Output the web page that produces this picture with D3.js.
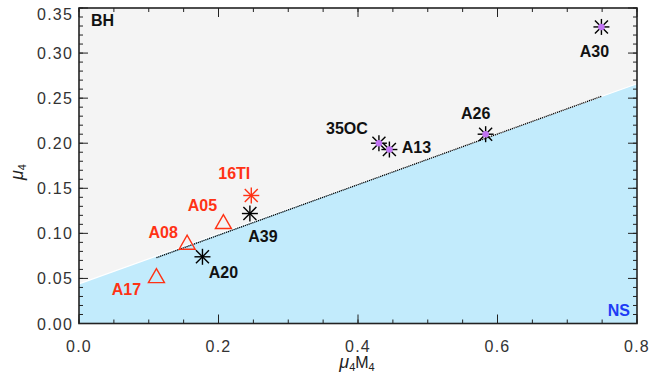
<!DOCTYPE html>
<html>
<head>
<meta charset="utf-8">
<script src="https://cdn.jsdelivr.net/npm/d3@7"></script>
<style>
body { margin: 0; background: #fff; }
svg text { font-family: "Liberation Sans", Arial, sans-serif; }
</style>
</head>
<body>
<div id="chart"></div>
<script>
// stars (asterisk markers)
var starNames = ["A30", "A26", "35OC", "A13", "16TI", "A39", "A20"];
var starX = [0.749, 0.583, 0.430, 0.445, 0.247, 0.245, 0.177];
var starY = [0.329, 0.210, 0.200, 0.193, 0.142, 0.122, 0.074];
var starColor = ["black", "black", "black", "black", "red", "black", "black"];
var starDot = [true, true, true, true, false, false, false];

// triangles
var triNames = ["A05", "A08", "A17"];
var triX = [0.207, 0.155, 0.111];
var triY = [0.112, 0.089, 0.052];

// boundary line between BH and NS
var boundX = [0.0, 0.8];
var boundY = [0.044, 0.266];
// dotted fit line
var fitX = [0.111, 0.749];
var fitY = [0.073, 0.252];

var xTicks = [0.0, 0.2, 0.4, 0.6, 0.8];
var yTicks = [0.00, 0.05, 0.10, 0.15, 0.20, 0.25, 0.30, 0.35];

var W = 664, H = 379;
var margin = {top: 8, right: 27, bottom: 56, left: 79};

var svg = d3.select("#chart").append("svg")
    .attr("width", W)
    .attr("height", H);

var x = d3.scaleLinear().domain([0, 0.8]).range([margin.left, W - margin.right]);
var y = d3.scaleLinear().domain([0, 0.35]).range([H - margin.bottom + 0.5, margin.top]);

var RED = "#ff3214";

// background regions
svg.append("rect")
    .attr("x", x(0)).attr("y", y(0.35))
    .attr("width", x(0.8) - x(0)).attr("height", y(0) - y(0.35))
    .attr("fill", "#f4f4f4");

svg.append("path")
    .attr("d", "M" + x(boundX[0]) + "," + y(boundY[0]) +
        "L" + x(boundX[1]) + "," + y(boundY[1]) +
        "L" + x(0.8) + "," + y(0) + "L" + x(0) + "," + y(0) + "Z")
    .attr("fill", "#c2ebfc");

svg.append("line")
    .attr("x1", x(boundX[0])).attr("y1", y(boundY[0]))
    .attr("x2", x(boundX[1])).attr("y2", y(boundY[1]))
    .attr("stroke", "white").attr("stroke-width", 1.2);

// dotted line
svg.append("line")
    .attr("x1", x(fitX[0])).attr("y1", y(fitY[0]))
    .attr("x2", x(fitX[1])).attr("y2", y(fitY[1]))
    .attr("stroke", "black").attr("stroke-width", 1.3)
    .attr("stroke-dasharray", "1.2,0.8");

// ticks on all four sides
var xMinor = d3.range(0, 0.801, 0.05);
var yMinor = d3.range(0, 0.3501, 0.01);

function drawTicks(g, vals, orient, len) {
    vals.forEach(function(v) {
        if (orient == "b") g.append("line").attr("x1", x(v)).attr("x2", x(v)).attr("y1", y(0)).attr("y2", y(0) - len);
        if (orient == "t") g.append("line").attr("x1", x(v)).attr("x2", x(v)).attr("y1", y(0.35)).attr("y2", y(0.35) + len);
        if (orient == "l") g.append("line").attr("y1", y(v)).attr("y2", y(v)).attr("x1", x(0)).attr("x2", x(0) + len);
        if (orient == "r") g.append("line").attr("y1", y(v)).attr("y2", y(v)).attr("x1", x(0.8)).attr("x2", x(0.8) - len);
    });
}

var tg = svg.append("g").attr("stroke", "#222").attr("stroke-width", 1);
drawTicks(tg, xMinor, "b", 4);
drawTicks(tg, xMinor, "t", 4);
drawTicks(tg, xTicks, "b", 9);
drawTicks(tg, xTicks, "t", 9);
drawTicks(tg, yMinor, "l", 4);
drawTicks(tg, yMinor, "r", 4);
drawTicks(tg, yTicks, "l", 9);
drawTicks(tg, yTicks, "r", 9);

svg.append("rect")
    .attr("x", x(0)).attr("y", y(0.35))
    .attr("width", x(0.8) - x(0)).attr("height", y(0) - y(0.35))
    .attr("fill", "none").attr("stroke", "#222").attr("stroke-width", 1.6);

svg.append("g").selectAll("text").data(xTicks).enter().append("text")
    .attr("x", function(d) { return x(d); })
    .attr("y", y(0) + 28)
    .attr("text-anchor", "middle")
    .attr("font-size", "16px")
    .attr("letter-spacing", "1.2px")
    .attr("fill", "#333")
    .text(function(d) { return d3.format(".1f")(d); });

svg.append("g").selectAll("text").data(yTicks).enter().append("text")
    .attr("x", x(0) - 6)
    .attr("y", function(d) { return Math.max(y(d), 14) + 6; })
    .attr("text-anchor", "end")
    .attr("font-size", "16px")
    .attr("letter-spacing", "1.2px")
    .attr("fill", "#333")
    .text(function(d) { return d3.format(".2f")(d); });

// axis titles
var xt = svg.append("text")
    .attr("x", 357).attr("y", 368)
    .attr("text-anchor", "middle")
    .attr("font-size", "16px")
    .attr("fill", "#222");
xt.append("tspan").attr("font-style", "italic").attr("font-size", "18px").text("\u03bc");
xt.append("tspan").attr("font-size", "11px").attr("dy", 3).text("4");
xt.append("tspan").attr("dy", -3).text("M");
xt.append("tspan").attr("font-size", "11px").attr("dy", 3).text("4");

var yt = svg.append("text")
    .attr("transform", "translate(23,172) rotate(-90)")
    .attr("text-anchor", "middle")
    .attr("font-size", "16px")
    .attr("fill", "#222");
yt.append("tspan").attr("font-style", "italic").attr("font-size", "18px").text("\u03bc");
yt.append("tspan").attr("font-size", "11px").attr("dy", 3).text("4");

// triangles
var triSize = 8;
svg.append("g").selectAll("path").data(triX).enter().append("path")
    .attr("d", function(d, i) {
        var cx = x(d), cy = y(triY[i]);
        return "M" + (cx - triSize) + "," + (cy + 6) + "L" + cx + "," + (cy - 8) +
            "L" + (cx + triSize) + "," + (cy + 6) + "Z";
    })
    .attr("fill", "none")
    .attr("stroke", RED)
    .attr("stroke-width", 1.4);

// asterisks
var starG = svg.append("g");
starX.forEach(function(d, i) {
    var cx = x(d), cy = y(starY[i]);
    var col = starColor[i] == "red" ? RED : "black";
    var r = 8, rd = 6.5;
    var segs = [[-r, 0, r, 0], [0, -r, 0, r], [-rd, -rd, rd, rd], [-rd, rd, rd, -rd]];
    segs.forEach(function(s) {
        starG.append("line")
            .attr("x1", cx + s[0]).attr("y1", cy + s[1])
            .attr("x2", cx + s[2]).attr("y2", cy + s[3])
            .attr("stroke", col).attr("stroke-width", 1.4);
    });
    if (starDot[i]) {
        starG.append("circle")
            .attr("cx", cx).attr("cy", cy).attr("r", 3.3)
            .attr("fill", "#c173f3");
    }
});

// point labels
var labelDx = {"A30": -7, "A26": -10, "35OC": -32, "A13": 27, "16TI": -17, "A39": 13, "A20": 21, "A05": -21, "A08": -24, "A17": -30};
var labelDy = {"A30": 24, "A26": -21, "35OC": -15, "A13": -3, "16TI": -22, "A39": 22, "A20": 15, "A05": -18, "A08": -11, "A17": 12};

var allNames = starNames.concat(triNames);
var allX = starX.concat(triX);
var allY = starY.concat(triY);
var allCol = starColor.concat(["red", "red", "red"]);

svg.append("g").selectAll("text").data(allNames).enter().append("text")
    .attr("x", function(d, i) { return x(allX[i]) + labelDx[d]; })
    .attr("y", function(d, i) { return y(allY[i]) + labelDy[d] + 6; })
    .attr("text-anchor", "middle")
    .attr("font-size", "16px")
    .attr("font-weight", "bold")
    .attr("fill", function(d, i) { return allCol[i] == "red" ? RED : "#111"; })
    .text(function(d) { return d; });

svg.append("text")
    .attr("x", 91).attr("y", 26)
    .attr("font-size", "16px").attr("font-weight", "bold")
    .attr("fill", "#111")
    .text("BH");

svg.append("text")
    .attr("x", 630).attr("y", 316)
    .attr("text-anchor", "end")
    .attr("font-size", "16px").attr("font-weight", "bold")
    .attr("fill", "#1d3cf5")
    .text("NS");
</script>
</body>
</html>
